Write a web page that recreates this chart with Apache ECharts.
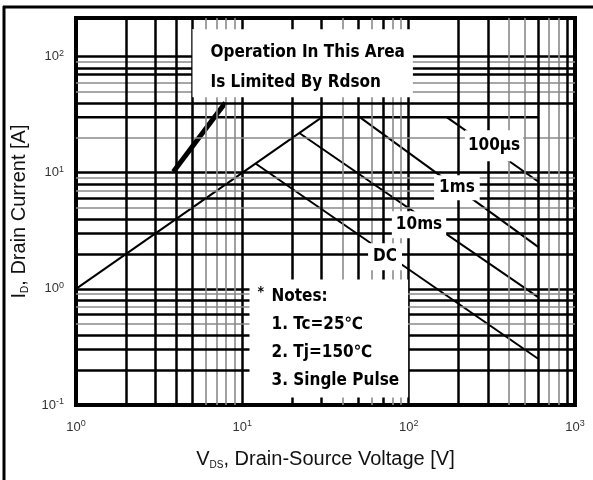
<!DOCTYPE html>
<html><head><meta charset="utf-8">
<script src="https://cdn.jsdelivr.net/npm/echarts@6/dist/echarts.min.js"></script>
<style>html,body{margin:0;padding:0;background:#fff}#c{width:593px;height:480px}</style>
</head><body><div id="c"></div>
<script>
// ---- data ----
const xTicks = [1, 10, 100, 1000];
const yTicks = [0.1, 1, 10, 100];
const xMinorBlack = [2, 3, 4, 5, 20, 30, 50, 70, 200, 300, 600, 900];
const xMinorGray  = [6, 7, 8, 9, 40, 60, 80, 90, 400, 500, 700, 800];
const yMinorBlack = [0.2, 0.3, 0.4, 0.6, 0.8, 2, 3, 4, 6, 8, 40, 70, 80];
const yMinorGray  = [0.5, 0.7, 0.9, 5, 7, 9, 20, 50, 60, 90];
const rdsonLimit  = [[1, 1], [30, 30]];
const pulseLimit  = [[1, 30], [600, 30]];
const line100us   = [[170, 30], [600, 8.4]];
const line1ms     = [[51, 30], [600, 2.3]];
const line10ms    = [[22, 22], [600, 0.85]];
const lineDC      = [[12, 12], [600, 0.25]];
const rdsonPointer = [[3.85, 10.2], [7.9, 40]];
const curveLabels = ['100µs', '1ms', '10ms', 'DC'];
const areaNote = ['Operation In This Area', 'Is Limited By Rdson'];
const notes = ['Notes:', '1. Tc=25℃', '2. Tj=150℃', '3. Single Pulse'];

// ---- chart ----
const chart = echarts.init(document.getElementById('c'), null, {renderer: 'canvas'});
const boldFont = '"DejaVu Sans Condensed","DejaVu Sans",sans-serif';
const tickFmt = v => {
  const e = Math.log10(v), r = Math.round(e);
  if (Math.abs(e - r) > 1e-6) return '';
  return '{b|10}{s|' + r + '}';
};
const tickRich = {
  b: {fontSize: 13, lineHeight: 16, color: '#333', fontFamily: 'Liberation Sans'},
  s: {fontSize: 9, verticalAlign: 'top', color: '#333', fontFamily: 'Liberation Sans'}
};
const nameRich = {
  n: {fontSize: 20, lineHeight: 22, color: '#111', fontFamily: 'Liberation Sans'},
  sub: {fontSize: 10, verticalAlign: 'bottom', color: '#111', fontFamily: 'Liberation Sans'}
};
const gridLines = (xs, ys) => xs.map(v => ({xAxis: v})).concat(ys.map(v => ({yAxis: v})));
const curve = (data, w) => ({
  type: 'line', data: data, showSymbol: false, silent: true, z: 3,
  lineStyle: {color: '#000', width: w}, emphasis: {disabled: true}
});
const lbl = (val, text, opts) => ({
  value: val,
  label: Object.assign({
    show: true, formatter: text, fontFamily: boldFont, fontWeight: 'bold',
    fontSize: 17, color: '#000', backgroundColor: '#fff', opacity: 1
  }, opts)
});
const labelSeries = (z, data) => ({
  type: 'scatter', z: z, silent: true, symbolSize: 1,
  itemStyle: {color: '#fff', opacity: 1}, emphasis: {disabled: true}, data: data
});

chart.setOption({
  animation: false,
  grid: {left: 76, right: 18, top: 18, bottom: 75, show: true, borderColor: '#000', borderWidth: 4,
         containLabel: false, outerBoundsMode: 'none'},
  graphic: [
    {type: 'line', shape: {x1: 3, y1: 7, x2: 593, y2: 7}, style: {stroke: '#000', lineWidth: 3}},
    {type: 'line', shape: {x1: 4, y1: 6, x2: 4, y2: 480}, style: {stroke: '#000', lineWidth: 3}}
  ],
  xAxis: {
    type: 'log', logBase: 10, min: xTicks[0], max: xTicks[xTicks.length - 1],
    axisLine: {show: false}, axisTick: {show: false},
    splitLine: {show: true, lineStyle: {color: '#000', width: 2.5}},
    axisLabel: {margin: 14, formatter: tickFmt, rich: tickRich},
    name: '{n|V}{sub|DS}{n|, Drain-Source Voltage [V]}',
    nameLocation: 'middle', nameGap: 43, nameTextStyle: {rich: nameRich}
  },
  yAxis: {
    type: 'log', logBase: 10, min: yTicks[0], max: 215,
    axisLine: {show: false}, axisTick: {show: false},
    splitLine: {show: true, lineStyle: {color: '#000', width: 2.5}},
    axisLabel: {margin: 12, formatter: tickFmt, rich: tickRich},
    name: '{n|I}{sub|D}{n|, Drain Current [A]}',
    nameLocation: 'middle', nameGap: 46, nameTextStyle: {rich: nameRich}
  },
  series: [
    {type: 'line', data: [], silent: true, z: 1,
     markLine: {silent: true, symbol: ['none', 'none'], label: {show: false}, emphasis: {disabled: true},
       lineStyle: {color: '#8a8a8a', width: 1.6, type: 'solid'}, data: gridLines(xMinorGray, yMinorGray)}},
    {type: 'line', data: [], silent: true, z: 2,
     markLine: {silent: true, symbol: ['none', 'none'], label: {show: false}, emphasis: {disabled: true},
       lineStyle: {color: '#000', width: 2.5, type: 'solid'}, data: gridLines(xMinorBlack, yMinorBlack)}},
    curve(pulseLimit, 2.5),
    curve(rdsonLimit, 2),
    curve(line100us, 2),
    curve(line1ms, 2),
    curve(line10ms, 2),
    curve(lineDC, 2),
    curve(rdsonPointer, 5),
    labelSeries(10, [
      lbl([5.05, 170], areaNote.join('\n'), {position: [0, 0], align: 'left', verticalAlign: 'top', lineHeight: 30, padding: [8, 8, 0, 18]}),
      lbl([11.12, 1.195], notes.join('\n'), {position: [0, 0], align: 'left', verticalAlign: 'top', lineHeight: 28, padding: [3, 9, 3, 22]}),
      lbl([326, 17.05], curveLabels[0], {position: 'inside', padding: [7, 3]}),
      lbl([195, 7.41], curveLabels[1], {position: 'inside', padding: [4, 5]}),
      lbl([115.4, 3.56], curveLabels[2], {position: 'inside', padding: [5, 4]}),
      lbl([72.1, 1.886], curveLabels[3], {position: 'inside', padding: [5, 5]})
    ]),
    labelSeries(11, [
      lbl([12.43, 0.93], '*', {position: [0, 0], align: 'left', verticalAlign: 'middle', fontSize: 14, backgroundColor: 'transparent'})
    ])
  ]
});
</script></body></html>
